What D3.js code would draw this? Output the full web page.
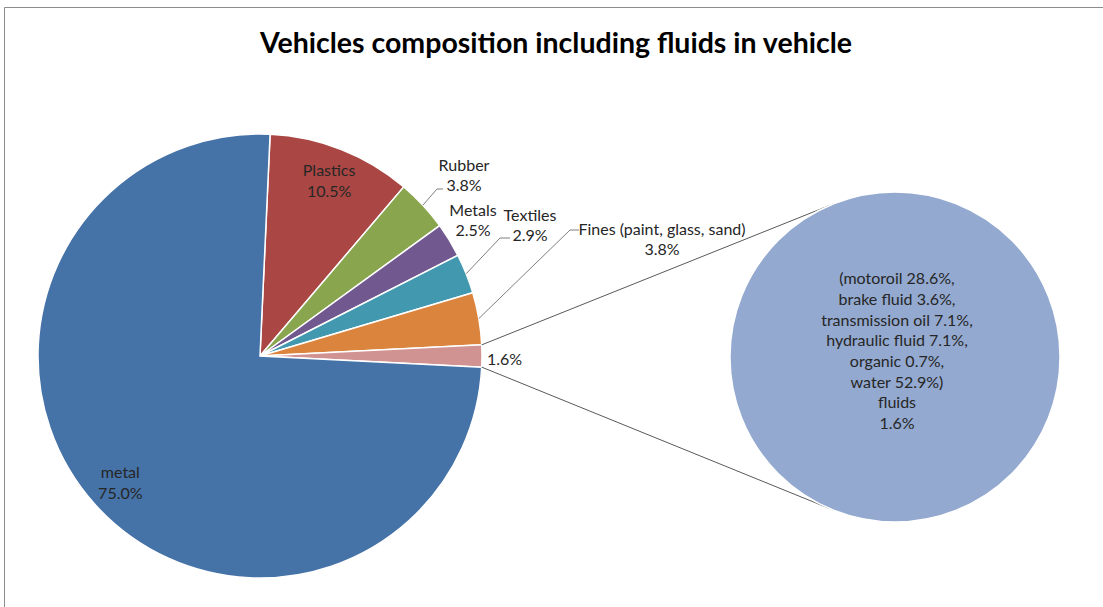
<!DOCTYPE html>
<html>
<head>
<meta charset="utf-8">
<script src="https://cdn.jsdelivr.net/npm/d3@7"></script>
<style>
  body { margin: 0; background: #fff; }
  text { font-family: Lato, "Open Sans", sans-serif; fill: #262626; }
</style>
</head>
<body>
<div id="chart"></div>
<script>
// main pie slices, in drawing order (clockwise)
const categories = ["Plastics", "Rubber", "Metals", "Textiles", "Fines (paint, glass, sand)", "fluids", "metal"];
const shares = [10.5, 3.8, 2.5, 2.9, 3.8, 1.6, 75.0];
const sliceColors = ["#AA4643", "#89A54E", "#71588F", "#4198AF", "#DB843D", "#D19392", "#4572A7"];

// breakdown of the fluids slice shown in the second pie
const fluidParts = ["motoroil", "brake fluid", "transmission oil", "hydraulic fluid", "organic", "water"];
const fluidShares = [28.6, 3.6, 7.1, 7.1, 0.7, 52.9];
const secondColor = "#93A9CF";

const title = "Vehicles composition including fluids in vehicle";

const width = 1103, height = 607;
const cx = 260, cy = 356, R = 222;
const cx2 = 895, cy2 = 357, r2 = 165;
const labelSize = "16px";

const svg = d3.select("#chart").append("svg")
    .attr("width", width)
    .attr("height", height);

// chart frame
svg.append("path")
    .attr("d", `M4.5,${height} V7.5 H${width}`)
    .attr("fill", "none")
    .attr("stroke", "#8c8c8c")
    .attr("stroke-width", 1);

svg.append("text")
    .attr("x", 556)
    .attr("y", 43)
    .attr("dy", "0.35em")
    .attr("text-anchor", "middle")
    .style("font-size", "28.5px")
    .style("font-weight", "bold")
    .style("fill", "#000")
    .text(title);

const data = categories.map((c, i) => ({ name: c, v: shares[i], color: sliceColors[i] }));
const total = d3.sum(shares);

// rotate so the fluids slice is centred at 3 o'clock, like Excel's pie-of-pie
const fi = categories.indexOf("fluids");
const beforeFluids = d3.sum(shares.slice(0, fi)) + shares[fi] / 2;
const start = Math.PI / 2 - beforeFluids / total * 2 * Math.PI;

const pie = d3.pie().sort(null).value(d => d.v)
    .startAngle(start).endAngle(start + 2 * Math.PI);
const arcs = pie(data);

const arc = d3.arc().innerRadius(0).outerRadius(R);

const g = svg.append("g").attr("transform", `translate(${cx},${cy})`);
g.selectAll("path")
    .data(arcs)
    .enter()
    .append("path")
    .attr("d", arc)
    .attr("fill", d => d.data.color)
    .attr("stroke", "#fff")
    .attr("stroke-width", 1.5);

const polar = (a, r) => [cx + r * Math.sin(a), cy - r * Math.cos(a)];

// connector lines to the second pie (tangent to it)
const fl = arcs[fi];
function tangent(p, upper) {
    const dx = p[0] - cx2, dy = p[1] - cy2;
    const d = Math.hypot(dx, dy);
    const phi = Math.atan2(dy, dx);
    const al = Math.acos(r2 / d);
    const t = upper ? phi + al : phi - al;
    return [cx2 + r2 * Math.cos(t), cy2 + r2 * Math.sin(t)];
}
const pTop = polar(fl.startAngle, R), pBot = polar(fl.endAngle, R);
[[pTop, tangent(pTop, true)], [pBot, tangent(pBot, false)]].forEach(seg => {
    svg.append("line")
        .attr("x1", seg[0][0]).attr("y1", seg[0][1])
        .attr("x2", seg[1][0]).attr("y2", seg[1][1])
        .attr("stroke", "#595959")
        .attr("stroke-width", 1);
});

// second pie: a single full slice
const pie2 = d3.pie().value(d => d)([d3.sum(fluidShares)]);
svg.append("g").attr("transform", `translate(${cx2},${cy2})`)
    .selectAll("path")
    .data(pie2)
    .enter()
    .append("path")
    .attr("d", d3.arc().innerRadius(0).outerRadius(r2))
    .attr("fill", secondColor)
    .attr("stroke", "#fff")
    .attr("stroke-width", 1.5);

const fmt = d3.format(".1f");
const secondLines = fluidParts.map((p, i) =>
    (i === 0 ? "(" : "") + p + " " + fmt(fluidShares[i]) + "%" + (i === fluidParts.length - 1 ? ")" : ","));
secondLines.push("fluids", fmt(shares[fi]) + "%");

const lineH = 20.7;
svg.append("g").selectAll("text")
    .data(secondLines)
    .enter()
    .append("text")
    .attr("x", cx2 + 2)
    .attr("y", (d, i) => 278.5 + i * lineH)
    .attr("dy", "0.35em")
    .attr("text-anchor", "middle")
    .style("font-size", labelSize)
    .text(d => d);

// data labels: inside ones at 0.85R, outside ones at hand-placed spots
const labelSpots = {
    "Rubber": { x: 464, y: 165, leader: [[437, 189], [443, 189]] },
    "Metals": { x: 473, y: 210 },
    "Textiles": { x: 530, y: 215, leader: [[500, 238], [510, 238]] },
    "Fines (paint, glass, sand)": { x: 662, y: 229, leader: [[570, 230], [579, 230]] }
};

arcs.forEach(a => {
    const name = a.data.name;
    const pct = fmt(a.data.v) + "%";
    const mid = (a.startAngle + a.endAngle) / 2;
    let x, y, lines, anchor = "middle";
    if (name === "fluids") {
        x = polar(mid, R)[0] + 5; y = polar(mid, R)[1] + 3;
        lines = [pct]; anchor = "start";
    } else if (labelSpots[name]) {
        const s = labelSpots[name];
        x = s.x; y = s.y; lines = [name, pct];
        if (s.leader) {
            const pts = [polar(mid, R)].concat(s.leader);
            svg.append("path")
                .attr("d", d3.line()(pts))
                .attr("fill", "none")
                .attr("stroke", "#7f7f7f")
                .attr("stroke-width", 1);
        }
    } else {
        const p = polar(mid, R * 0.85);
        x = p[0]; y = p[1] - 10; lines = [name, pct];
    }
    lines.forEach((t, i) => {
        svg.append("text")
            .attr("x", x)
            .attr("y", y + i * 20.5)
            .attr("dy", "0.35em")
            .attr("text-anchor", anchor)
            .style("font-size", labelSize)
            .text(t);
    });
});
</script>
</body>
</html>
